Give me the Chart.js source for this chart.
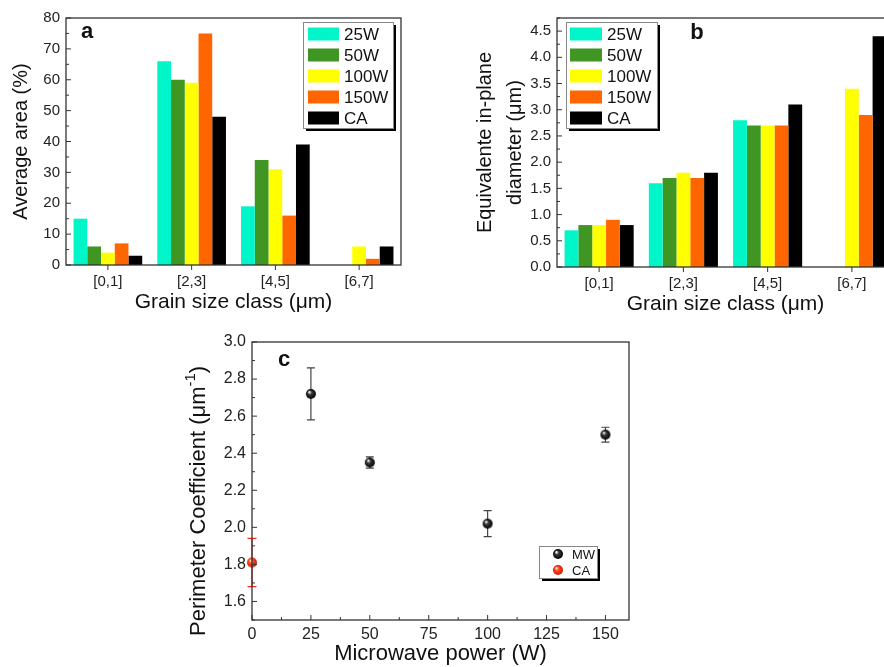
<!DOCTYPE html>
<html>
<head>
<meta charset="utf-8">
<script src="https://cdn.jsdelivr.net/npm/chart.js@4.4.1/dist/chart.umd.min.js"></script>
<style>
    html, body { margin: 0; padding: 0; width: 884px; height: 667px; overflow: hidden; background: #fff; }
    canvas { position: absolute; }
    #chartA { left: 0; top: 0; }
    #chartB { left: 440px; top: 0; }
    #chartC { left: 180px; top: 320px; }
</style>
</head>
<body>
<canvas id="chartA" width="440" height="320"></canvas>
<canvas id="chartB" width="460" height="320"></canvas>
<canvas id="chartC" width="460" height="347"></canvas>
<script>
// Classes de taille de grain et séries de puissance
const grainClasses = ['[0,1]', '[2,3]', '[4,5]', '[6,7]'];
const seriesLabels = ['25W', '50W', '100W', '150W', 'CA'];
const seriesColors = ['#00f5c8', '#3f9622', '#ffff00', '#ff6600', '#000000'];

// (a) Surface moyenne (%)
const area25 = [15, 66, 19, null];
const area50 = [6, 60, 34, null];
const area100 = [4, 59, 31, 6];
const area150 = [7, 75, 16, 2];
const areaCA = [3, 48, 39, 6];
const areaTicks = [0, 10, 20, 30, 40, 50, 60, 70, 80];

// (b) Diamètre équivalent (µm)
const diam25 = [0.7, 1.6, 2.8, null];
const diam50 = [0.8, 1.7, 2.7, null];
const diam100 = [0.8, 1.8, 2.7, 3.4];
const diam150 = [0.9, 1.7, 2.7, 2.9];
const diamCA = [0.8, 1.8, 3.1, 4.4];
const diamTicks = [0, 0.5, 1.0, 1.5, 2.0, 2.5, 3.0, 3.5, 4.0, 4.5];

// (c) Coefficient de périmètre
const mwPower = [25, 50, 100, 150];
const mwCoeff = [2.72, 2.35, 2.02, 2.50];
const mwErr = [0.14, 0.03, 0.07, 0.04];
const caPower = [0];
const caCoeff = [1.81];
const caErr = [0.13];
const coeffTicks = [1.6, 1.8, 2.0, 2.2, 2.4, 2.6, 2.8, 3.0];
const powerTicks = [0, 25, 50, 75, 100, 125, 150];

const FONT = "'Liberation Sans', Arial, sans-serif";
const TEXT = '#111';

/**
 * Cadre, graduations majeures et mineures.
 */
const frameTicks = {
    id: 'frameTicks',
    afterDraw(chart) {
        const { ctx, chartArea: a, scales: { x, y } } = chart;
        const seg = (x1, y1, x2, y2) => { ctx.beginPath(); ctx.moveTo(x1, y1); ctx.lineTo(x2, y2); ctx.stroke(); };
        ctx.save();
        ctx.strokeStyle = '#333';
        ctx.lineWidth = 1.3;
        ctx.strokeRect(a.left, a.top, a.right - a.left, a.bottom - a.top);
        ctx.lineWidth = 1;

        const yv = y.ticks.map(t => t.value);
        const ys = yv[1] - yv[0];
        yv.forEach(v => { const p = y.getPixelForValue(v); seg(a.left, p, a.left + 5, p); });
        for (let i = -1; i < yv.length; i++) {
            const m = (i < 0 ? yv[0] - ys / 2 : yv[i] + ys / 2);
            if (m < y.min || m > y.max) continue;
            const p = y.getPixelForValue(m);
            seg(a.left, p, a.left + 3, p);
        }

        if (x.type === 'category') {
            x.ticks.forEach((t, i) => { const p = x.getPixelForTick(i); seg(p, a.bottom, p, a.bottom + 5); });
        } else {
            const xv = x.ticks.map(t => t.value);
            const xs = xv[1] - xv[0];
            xv.forEach(v => { const p = x.getPixelForValue(v); seg(p, a.bottom, p, a.bottom - 5); });
            xv.forEach(v => {
                const m = v + xs / 2;
                if (m > x.max) return;
                const p = x.getPixelForValue(m);
                seg(p, a.bottom, p, a.bottom - 3);
            });
        }
        ctx.restore();
    }
};

/**
 * Lettre du panneau (a, b, c).
 */
const panelLetter = {
    id: 'panelLetter',
    afterDraw(chart, args, o) {
        const { ctx } = chart;
        ctx.save();
        ctx.font = `bold 22px ${FONT}`;
        ctx.fillStyle = TEXT;
        ctx.textAlign = 'center';
        ctx.textBaseline = 'middle';
        ctx.fillText(o.text, o.x, o.y);
        ctx.restore();
    }
};

/**
 * Titre vertical avec exposant (panneau c).
 */
const supTitle = {
    id: 'supTitle',
    afterDraw(chart, args, o) {
        if (!o.parts) return;
        const { ctx } = chart;
        ctx.save();
        ctx.translate(o.x, o.y);
        ctx.rotate(-Math.PI / 2);
        ctx.fillStyle = TEXT;
        ctx.textAlign = 'left';
        ctx.textBaseline = 'middle';
        let pos = 0;
        o.parts.forEach(([txt, sup]) => {
            ctx.font = `${sup ? o.size * 0.68 : o.size}px ${FONT}`;
            ctx.fillText(txt, pos, sup ? -o.size * 0.38 : 0);
            pos += ctx.measureText(txt).width;
        });
        ctx.restore();
    }
};

/**
 * Légende encadrée avec ombre portée.
 */
const boxLegend = {
    id: 'boxLegend',
    afterDraw(chart, args, o) {
        const { ctx } = chart;
        ctx.save();
        ctx.fillStyle = '#000';
        ctx.fillRect(o.x + 3, o.y + 3, o.w, o.h);
        ctx.fillStyle = '#fff';
        ctx.fillRect(o.x, o.y, o.w, o.h);
        ctx.strokeStyle = '#888';
        ctx.lineWidth = 1;
        ctx.strokeRect(o.x + 0.5, o.y + 0.5, o.w, o.h);
        ctx.font = `${o.fontSize}px ${FONT}`;
        ctx.textBaseline = 'middle';
        ctx.textAlign = 'left';
        chart.data.datasets.forEach((ds, i) => {
            const cy = o.y + o.first + i * o.row;
            if (o.type === 'bar') {
                ctx.fillStyle = ds.backgroundColor;
                ctx.fillRect(o.x + o.sw, cy - 6.5, o.swW, 13);
            } else {
                const img = ds.pointStyle;
                ctx.drawImage(img, o.x + o.sw - img.width / 2, cy - img.height / 2);
            }
            ctx.fillStyle = TEXT;
            ctx.fillText(ds.label, o.x + o.tx, cy + 1);
        });
        ctx.restore();
    }
};

/**
 * Barres d'erreur verticales.
 */
const errorBars = {
    id: 'errorBars',
    beforeDatasetsDraw(chart) {
        const { ctx, scales: { y } } = chart;
        ctx.save();
        chart.data.datasets.forEach((ds, i) => {
            if (!ds.errors) return;
            const meta = chart.getDatasetMeta(i);
            ctx.strokeStyle = ds.errorColor;
            ctx.lineWidth = 1.2;
            meta.data.forEach((pt, j) => {
                const v = ds.data[j].y;
                const top = y.getPixelForValue(v + ds.errors[j]);
                const bot = y.getPixelForValue(v - ds.errors[j]);
                const w = ds.capHalf;
                ctx.beginPath();
                ctx.moveTo(pt.x, top); ctx.lineTo(pt.x, bot);
                ctx.moveTo(pt.x - w, top); ctx.lineTo(pt.x + w, top);
                ctx.moveTo(pt.x - w, bot); ctx.lineTo(pt.x + w, bot);
                ctx.stroke();
            });
        });
        ctx.restore();
    }
};

const makeSphere = (r, light, mid, dark) => {
    const c = document.createElement('canvas');
    c.width = c.height = r * 2 + 2;
    const g = c.getContext('2d');
    const cx = r + 1;
    const grad = g.createRadialGradient(cx - r * 0.35, cx - r * 0.4, 0.4, cx, cx, r);
    grad.addColorStop(0, light);
    grad.addColorStop(0.35, mid);
    grad.addColorStop(1, dark);
    g.fillStyle = grad;
    g.beginPath();
    g.arc(cx, cx, r, 0, Math.PI * 2);
    g.fill();
    return c;
};

const barDatasets = (series) => series.map((data, i) => ({
    label: seriesLabels[i],
    data,
    backgroundColor: seriesColors[i],
    borderWidth: 0,
    categoryPercentage: 0.82,
    barPercentage: 1.0
}));

const barOptions = ({ yMax, yTicks, yWidth, xHeight, padTop, padRight, yTitle, yTitlePad, yTitleLH, xTitlePad, fmt, letter, legend }) => ({
    responsive: false,
    animation: false,
    layout: { padding: { top: padTop, right: padRight, left: 0, bottom: 0 } },
    plugins: {
        legend: { display: false },
        tooltip: { enabled: false },
        panelLetter: letter,
        boxLegend: legend
    },
    scales: {
        x: {
            grid: { display: false, drawTicks: false },
            border: { display: false },
            ticks: { color: '#222', font: { family: FONT, size: 15 }, padding: 8 },
            title: { display: true, text: 'Grain size class (\u03bcm)', color: TEXT, font: { family: FONT, size: 21 }, padding: { top: 0, bottom: xTitlePad } },
            afterFit: (axis) => { axis.height = xHeight; }
        },
        y: {
            min: 0,
            max: yMax,
            grid: { display: false, drawTicks: false },
            border: { display: false },
            ticks: { color: '#222', font: { family: FONT, size: 15 }, padding: 6, callback: fmt },
            afterBuildTicks: (axis) => { axis.ticks = yTicks.map(v => ({ value: v })); },
            title: { display: true, text: yTitle, color: TEXT, font: { family: FONT, size: 20, lineHeight: yTitleLH }, padding: { top: yTitlePad, bottom: 0 } },
            afterFit: (axis) => { axis.width = yWidth; }
        }
    }
});

// Graphique (a)
new Chart(document.getElementById('chartA'), {
    type: 'bar',
    data: { labels: grainClasses, datasets: barDatasets([area25, area50, area100, area150, areaCA]) },
    options: barOptions({
        yMax: 80, yTicks: areaTicks, yWidth: 66, xHeight: 55, padTop: 18, padRight: 39,
        yTitle: 'Average area (%)', yTitlePad: 9, yTitleLH: 1.2, xTitlePad: 5,
        fmt: (v) => v,
        letter: { text: 'a', x: 87, y: 32 },
        legend: { type: 'bar', x: 303, y: 22, w: 90, h: 106, first: 12, row: 21, sw: 5, swW: 31, tx: 41, fontSize: 17 }
    }),
    plugins: [frameTicks, panelLetter, boxLegend]
});

// Graphique (b)
new Chart(document.getElementById('chartB'), {
    type: 'bar',
    data: { labels: grainClasses, datasets: barDatasets([diam25, diam50, diam100, diam150, diamCA]) },
    options: barOptions({
        yMax: 4.75, yTicks: diamTicks, yWidth: 117, xHeight: 53, padTop: 18, padRight: 6,
        yTitle: ['Equivalente in-plane', 'diameter (\u03bcm)'], yTitlePad: 30, yTitleLH: 1.5, xTitlePad: 3,
        fmt: (v) => Number(v).toFixed(1),
        letter: { text: 'b', x: 257, y: 33 },
        legend: { type: 'bar', x: 126, y: 22, w: 91, h: 106, first: 12, row: 21, sw: 4, swW: 32, tx: 41, fontSize: 17 }
    }),
    plugins: [frameTicks, panelLetter, boxLegend]
});

// Graphique (c)
const mwSphere = makeSphere(5, '#ffffff', '#3a3a3a', '#000000');
const caSphere = makeSphere(5, '#ffe0d0', '#ff4a26', '#d41a00');

new Chart(document.getElementById('chartC'), {
    type: 'scatter',
    data: {
        datasets: [
            {
                label: 'MW',
                data: mwPower.map((p, i) => ({ x: p, y: mwCoeff[i] })),
                pointStyle: mwSphere,
                errors: mwErr,
                errorColor: '#444',
                capHalf: 4,
                clip: false
            },
            {
                label: 'CA',
                data: caPower.map((p, i) => ({ x: p, y: caCoeff[i] })),
                pointStyle: caSphere,
                errors: caErr,
                errorColor: '#ff2a1a',
                capHalf: 4.5,
                clip: false
            }
        ]
    },
    options: {
        responsive: false,
        animation: false,
        layout: { padding: { top: 22, right: 11, left: 0, bottom: 0 } },
        plugins: {
            legend: { display: false },
            tooltip: { enabled: false },
            panelLetter: { text: 'c', x: 104, y: 40 },
            supTitle: { x: 19, y: 316, size: 22, parts: [['Perimeter Coefficient (\u03bcm', false], ['-1', true], [')', false]] },
            boxLegend: { type: 'point', x: 359, y: 226, w: 58, h: 32, first: 8, row: 16, sw: 19, tx: 33, fontSize: 13 }
        },
        scales: {
            x: {
                type: 'linear',
                min: 0,
                max: 160,
                grid: { display: false, drawTicks: false },
                border: { display: false },
                ticks: { color: '#222', font: { family: FONT, size: 16 }, padding: 5 },
                afterBuildTicks: (axis) => { axis.ticks = powerTicks.map(v => ({ value: v })); },
                title: { display: true, text: 'Microwave power (W)', color: TEXT, font: { family: FONT, size: 22 }, padding: { top: 0, bottom: 0 } },
                afterFit: (axis) => { axis.height = 47; }
            },
            y: {
                min: 1.5,
                max: 3.0,
                grid: { display: false, drawTicks: false },
                border: { display: false },
                ticks: { color: '#222', font: { family: FONT, size: 16 }, padding: 6, callback: (v) => Number(v).toFixed(1) },
                afterBuildTicks: (axis) => { axis.ticks = coeffTicks.map(v => ({ value: v })); },
                title: { display: false },
                afterFit: (axis) => { axis.width = 72; }
            }
        }
    },
    plugins: [errorBars, frameTicks, panelLetter, supTitle, boxLegend]
});
</script>
</body>
</html>
